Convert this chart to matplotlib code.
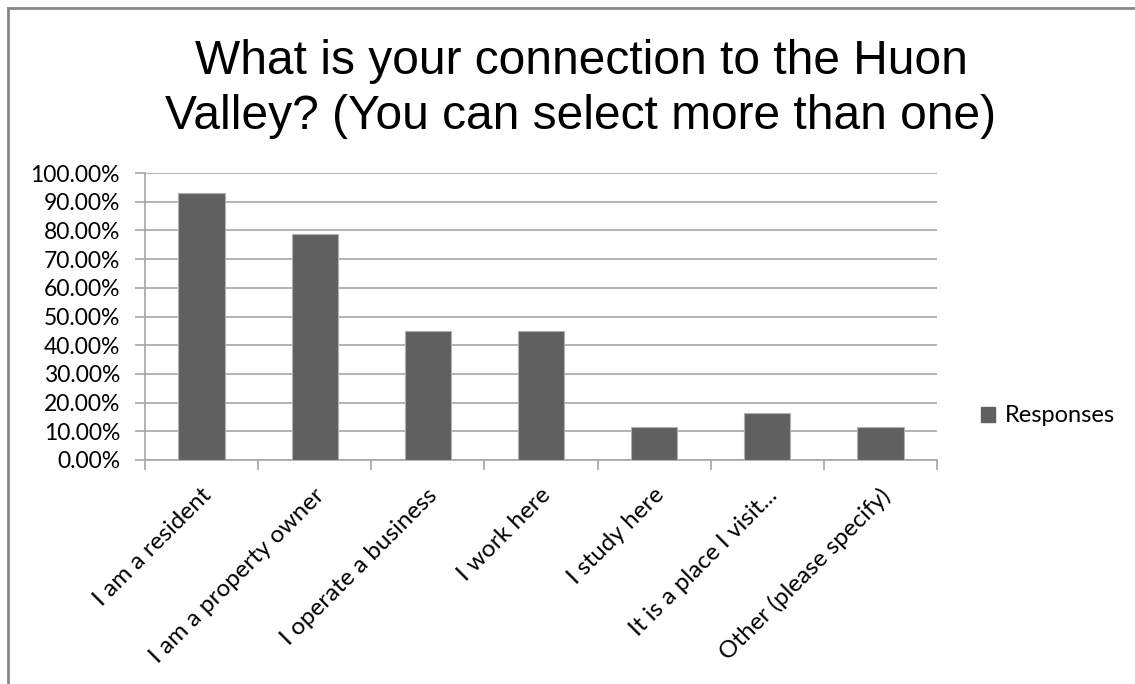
import numpy as np
import matplotlib.pyplot as plt
from matplotlib.patches import Rectangle
from matplotlib.ticker import PercentFormatter

# -----------------------------
# Data
# -----------------------------
categories = ["I am a resident", "I am a property owner", "I operate a business",
              "I work here", "I study here", "It is a place I visit...",
              "Other (please specify)"]
responses = [92.9, 78.6, 45.0, 45.0, 11.6, 16.5, 11.6]
series_name = "Responses"

title_font = "Liberation Sans"
tick_font = "Lato"

# -----------------------------
# Figure
# -----------------------------
fig = plt.figure(figsize=(11.35, 6.84), dpi=100)
W, H = 1135, 684
ax = fig.add_axes([145 / W, 1 - 460 / H, (937 - 145) / W, (460 - 173) / H])

x = np.arange(len(categories))
ax.bar(x, responses, width=0.41, color="#606060", edgecolor="#b0b0b0",
       linewidth=0.8, label=series_name, zorder=3)

ax.set_xlim(-0.5, len(categories) - 0.5)
ax.set_ylim(0, 100)
ax.set_yticks(np.arange(0, 101, 10))
ax.yaxis.set_major_formatter(PercentFormatter(decimals=2))
ax.grid(axis="y", color="#a6a6a6", linewidth=1.2, zorder=0)

for s in ["top", "right"]:
    ax.spines[s].set_visible(False)
for s in ["left", "bottom"]:
    ax.spines[s].set_color("#a6a6a6")
    ax.spines[s].set_linewidth(1.2)

# ticks between categories
ax.set_xticks(np.arange(-0.5, len(categories), 1.0))
ax.set_xticklabels([])
ax.tick_params(axis="x", length=7, color="#a6a6a6", width=1.2)
ax.tick_params(axis="y", length=7, color="#a6a6a6", width=1.2,
               labelsize=16.5, pad=11)
for lbl in ax.get_yticklabels():
    lbl.set_fontfamily(tick_font)

for i, c in enumerate(categories):
    ax.text(i - 0.01, -8.5, c, rotation=45, ha="right", va="top",
            rotation_mode="anchor", fontsize=17.5, family=tick_font)

fig.text(581 / W, 1 - 89 / H, "What is your connection to the Huon\nValley? (You can select more than one)",
         ha="center", va="center", fontsize=34.5, family=title_font,
         linespacing=1.3)

fig.legend(handles=[Rectangle((0, 0), 1, 1, color="#606060")],
           labels=[series_name], loc="center left",
           bbox_to_anchor=(960 / W, 1 - 416 / H), frameon=False,
           handlelength=0.6, handleheight=0.6, handletextpad=0.4,
           prop={"family": tick_font, "size": 17})

# outer frame lines (top and left) as seen in the screenshot
fig.add_artist(plt.Line2D([8 / W, 1], [1 - 8 / H, 1 - 8 / H],
                          transform=fig.transFigure, color="#888888", lw=2))
fig.add_artist(plt.Line2D([8 / W, 8 / W], [0, 1 - 8 / H],
                          transform=fig.transFigure, color="#888888", lw=2))

fig.savefig("out.png", dpi=100)
